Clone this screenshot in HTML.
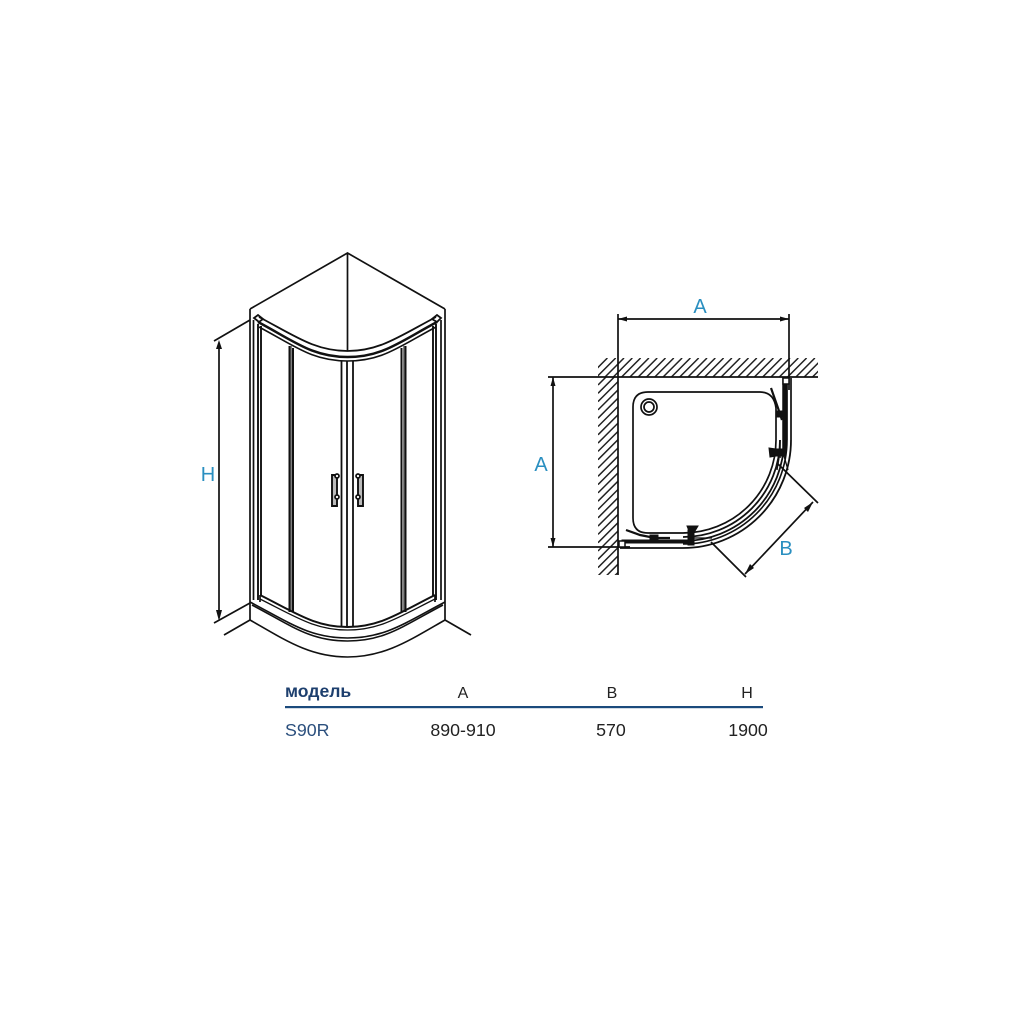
<!DOCTYPE html>
<html><head><meta charset="utf-8"><style>html,body{margin:0;padding:0;background:#fff}svg{display:block}</style></head><body>
<svg xmlns="http://www.w3.org/2000/svg" width="1024" height="1024" viewBox="0 0 1024 1024">
<defs>
<clipPath id="cp"><rect x="618" y="377" width="200" height="175"/></clipPath>
<clipPath id="cl"><rect x="598" y="377" width="20" height="198"/></clipPath>
<clipPath id="ct"><rect x="598" y="358" width="220" height="19"/></clipPath>
</defs>
<rect width="1024" height="1024" fill="#fff"/>
<g fill="none" stroke="#111" stroke-width="1.700">
<path d="M250 309L347.500 253L445 309M347.500 253V351"/>
<path d="M250 309V602M253.500 320V600M445 309V602M441 320V600"/>
<path d="M258 324V600M261 326V596M433 326V596M436 324V600" stroke-width="1.900"/>
<path d="M289.500 346V612M293 348V612M401.500 348V612M405.500 346V612" stroke-width="2"/>
<path d="M291 346V612M404 346V612" stroke-width="1.500" stroke="#555"/>
<path d="M341.500 361V626M347 361V627M353 361V626" stroke-width="1.800"/>
<path d="M259 317C295 336 315 351 347.500 351C380 351 400 336 436 317" stroke-width="1.800"/>
<path d="M258 322C294 341 312 357 347.500 357C383 357 401 341 437 322" stroke-width="2.500"/>
<path d="M259 327C295 346 312 361 347.500 361C383 361 400 346 436 327" stroke-width="1.600"/>
<path d="M254 318L258 315L263 319L259 322ZM432 319L437 315L441 318L437 322Z" stroke-width="1.800"/>
<path d="M260 595C296 613 315 627 347.500 627C380 627 399 613 435 595" stroke-width="2"/>
<path d="M260 599C296 617 315 630 347.500 630C380 630 399 617 435 599" stroke-width="1.300"/>
<path d="M250 602C290 623 310 638 347.500 638C385 638 405 623 445 602" stroke-width="1.600"/>
<path d="M252 605C292 626 310 641 347.500 641C385 641 403 626 443 605" stroke-width="1.600"/>
<path d="M250 620C285 640 310 657 347.500 657C385 657 410 640 445 620" stroke-width="1.600"/>
<path d="M250 602V620M445 602V620M260 595V602M435 595V602"/>
<path d="M250 320L214 341M250 603L214 623M250 620L224 635M445 620L471 635"/>
<path d="M219 348V612"/>
<path d="M332 475H337V506H332ZM363 475H358V506H363Z" fill="#bbb" stroke-width="1.900"/>
<circle cx="337" cy="476" r="2" fill="#fff"/><circle cx="337" cy="497" r="2" fill="#fff"/><circle cx="358" cy="476" r="2" fill="#fff"/><circle cx="358" cy="497" r="2" fill="#fff"/>
</g>
<path d="M219 340L216 349H222ZM219 621L216 610H222Z" fill="#111"/>

<path clip-path="url(#ct)" fill="none" stroke="#222" stroke-width="1.500" d="M588.400 377l19 -19M596.700 377l19 -19M605 377l19 -19M613.300 377l19 -19M621.600 377l19 -19M629.900 377l19 -19M638.200 377l19 -19M646.500 377l19 -19M654.800 377l19 -19M663.100 377l19 -19M671.400 377l19 -19M679.700 377l19 -19M688 377l19 -19M696.300 377l19 -19M704.600 377l19 -19M712.900 377l19 -19M721.200 377l19 -19M729.500 377l19 -19M737.800 377l19 -19M746.100 377l19 -19M754.400 377l19 -19M762.700 377l19 -19M771 377l19 -19M779.300 377l19 -19M787.600 377l19 -19M795.900 377l19 -19M804.200 377l19 -19M812.500 377l19 -19"/>
<path clip-path="url(#cl)" fill="none" stroke="#222" stroke-width="1.500" d="M598 385l20 -20M598 393.300l20 -20M598 401.600l20 -20M598 409.900l20 -20M598 418.200l20 -20M598 426.500l20 -20M598 434.800l20 -20M598 443.100l20 -20M598 451.400l20 -20M598 459.700l20 -20M598 468l20 -20M598 476.300l20 -20M598 484.600l20 -20M598 492.900l20 -20M598 501.200l20 -20M598 509.500l20 -20M598 517.800l20 -20M598 526.100l20 -20M598 534.400l20 -20M598 542.700l20 -20M598 551l20 -20M598 559.300l20 -20M598 567.600l20 -20M598 575.900l20 -20M598 584.200l20 -20M598 592.500l20 -20"/>
<g fill="none" stroke="#111" stroke-width="1.700">
<path d="M598 377H818M618 314V575M789 314V390M618 319H789M548 377H618M548 547H630M553 377V547"/>
<path d="M648 392H760Q774 392 776 408V440A93 93 0 0 1 683 533H648Q633 533 633 518V407Q633 392 648 392Z"/>
<g clip-path="url(#cp)">
<path d="M780 440A97 97 0 0 1 683 537" stroke-width="1.800"/>
<path d="M784 440A101 101 0 0 1 683 541" stroke-width="1.800"/>
<path d="M787 440A104 104 0 0 1 683 544" stroke-width="1.600"/>
<path d="M791 440A108 108 0 0 1 683 548" stroke-width="1.800"/>
</g>
<path d="M791 378V440M787 378V440M620 548H683"/>
<circle cx="649" cy="407" r="8"/><circle cx="649" cy="407" r="5"/>
<path d="M777 463L818 503M711 542L746 577M813 502L745 574"/>
</g>
<g fill="#111" stroke="#111">
<path d="M783 378H786V452H783Z" stroke-width="1.500"/>
<path d="M780 440V458" fill="none" stroke-width="1.500"/>
<path d="M771 388L778 408L782 420" fill="none" stroke-width="2.200"/>
<path d="M776 411H784V417H776ZM769 448L776 449H785V456H776L770 457Z" stroke-width="1"/>
<path d="M779 458L777 470M784 456L788 470" fill="none" stroke-width="1.300"/>
<rect x="783" y="378" width="6" height="6" fill="#fff" stroke-width="1.500"/>
<path d="M626 530L640 535L655 538L670 538" fill="none" stroke-width="2.200"/>
<path d="M622 540H692V543H622Z" stroke-width="1"/>
<path d="M650 535H658V543H650ZM688 530H694V545H688ZM687 526H698L695 531H689Z" stroke-width="1"/>
<path d="M692 538H712" fill="none" stroke-width="1.300"/>
<rect x="619" y="541" width="6" height="6" fill="#fff" stroke-width="1.500"/>
</g>
<path d="M813 502L804 508L808 512ZM745 574L754 568L750 564Z" fill="#111"/>
<path d="M618 319L627 316.500V321.500ZM789 319L780 316.500V321.500ZM553 377L550.500 386H555.500ZM553 547L550.500 538H555.500Z" fill="#111"/>

<g font-family="'Liberation Sans',sans-serif" fill="#2a8fc0" font-size="20" text-anchor="middle">
<text x="208" y="481">H</text><text x="700" y="313">A</text><text x="541" y="471">A</text><text x="786" y="555">B</text>
</g>
<g font-family="'Liberation Sans','Noto Sans CJK SC',sans-serif" font-size="17">
<text x="285" y="697" font-size="17.600" font-weight="700" fill="#1d3f6e">модель</text>
<g fill="#222" text-anchor="middle"><text x="463" y="698" font-size="16">A</text><text x="612" y="698" font-size="16">B</text><text x="747" y="698" font-size="16">H</text>
<text x="463" y="736" font-size="17.800">890-910</text><text x="611" y="736" font-size="17.800">570</text><text x="748" y="736" font-size="17.800">1900</text></g>
<text x="285" y="736" font-size="17.800" fill="#2b4f7d">S90R</text>
</g>
<rect x="285" y="706" width="478" height="2.200" fill="#1b4a7c"/>
</svg>
</body></html>
